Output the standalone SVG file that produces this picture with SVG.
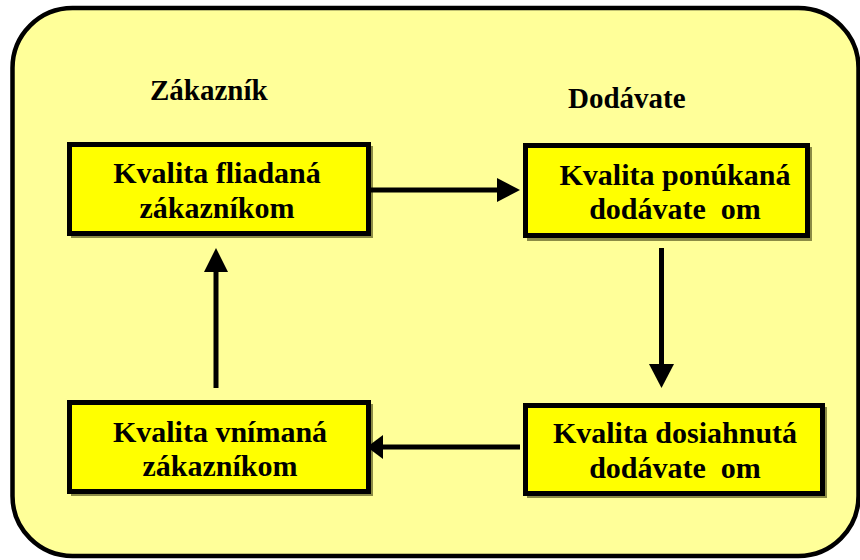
<svg xmlns="http://www.w3.org/2000/svg" width="860" height="560" viewBox="0 0 860 560">
<defs>
<style>
.box{fill:#FFFF00;stroke:#000;stroke-width:5}
.shadow{fill:#8C8C46}
.t{font-family:"Liberation Serif","Times New Roman",serif;font-weight:bold;font-size:30px;fill:#000;text-anchor:middle}
.h{font-family:"Liberation Serif","Times New Roman",serif;font-weight:bold;font-size:29px;fill:#000}
.line{stroke:#000;stroke-width:5;fill:none}
.head{fill:#000}
</style>
</defs>
<rect x="12.5" y="8" width="846" height="548" rx="60" ry="60" fill="#FFFF99" stroke="#000" stroke-width="4.5"/>
<text class="h" x="150" y="100">Zákazník</text>
<text class="h" x="568" y="108">Dodávate</text>
<g id="n1">
<rect class="shadow" x="71" y="146" width="302" height="92"/>
<rect class="box" x="69.5" y="144.5" width="299" height="89"/>
<text class="t" x="217" y="183">Kvalita fliadaná</text>
<text class="t" x="217" y="218">zákazníkom</text>
</g>
<g id="n2">
<rect class="shadow" x="527" y="147" width="285" height="94"/>
<rect class="box" x="525.5" y="145.5" width="282" height="90"/>
<text class="t" x="675" y="185" xml:space="preserve">Kvalita ponúkaná</text>
<text class="t" x="675" y="219" xml:space="preserve">dodávate  om</text>
</g>
<g id="n3">
<rect class="shadow" x="71" y="404" width="302" height="92"/>
<rect class="box" x="69.5" y="402.5" width="299" height="89"/>
<text class="t" x="220" y="442">Kvalita vnímaná</text>
<text class="t" x="220" y="476">zákazníkom</text>
</g>
<g id="n4">
<rect class="shadow" x="527" y="407" width="300" height="91"/>
<rect class="box" x="525.5" y="405.5" width="297" height="88"/>
<text class="t" x="675" y="443" xml:space="preserve">Kvalita dosiahnutá</text>
<text class="t" x="675" y="478" xml:space="preserve">dodávate  om</text>
</g>
<g id="connectors">
<line class="line" x1="368" y1="190" x2="500" y2="190"/>
<polygon class="head" points="497,178 520,190 497,202"/>
<line class="line" x1="661.5" y1="248" x2="661.5" y2="366"/>
<polygon class="head" points="649,364 674,364 661.5,388"/>
<line class="line" x1="216" y1="388" x2="216" y2="270"/>
<polygon class="head" points="204,272 228,272 216,248"/>
<line class="line" x1="520" y1="447" x2="380" y2="447"/>
<polygon class="head" points="383,435 383,459 367,447"/>
</g>
</svg>
